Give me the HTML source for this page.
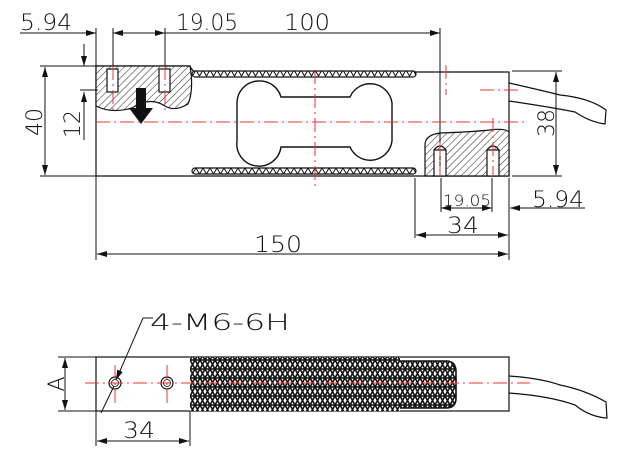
<!DOCTYPE html>
<html><head><meta charset="utf-8"><style>
html,body{margin:0;padding:0;background:#fff;}
svg{display:block;}
text{font-family:"DejaVu Sans","Liberation Sans",sans-serif;fill:#111;font-weight:300;}
</style></head><body>
<svg width="621" height="454" viewBox="0 0 621 454" xmlns="http://www.w3.org/2000/svg">
<defs>
<pattern id="hat" width="5" height="5" patternUnits="userSpaceOnUse" patternTransform="rotate(45)">
<rect width="5" height="5" fill="#fff"/><line x1="0" y1="0" x2="0" y2="5" stroke="#222" stroke-width="1"/></pattern>
<pattern id="kn" width="10" height="9" patternUnits="userSpaceOnUse">
<rect width="10" height="9" fill="#fff"/><path d="M0,0 L5,9 L10,0 M0,9 L5,0 L10,9 M0,0H10M0,9H10" stroke="#111" stroke-width="1.6" fill="none"/></pattern>
<pattern id="zz" width="7" height="7" patternUnits="userSpaceOnUse">
<rect width="7" height="7" fill="#fff"/><path d="M0,0 L3.5,6 L7,0" stroke="#111" stroke-width="1" fill="none"/></pattern>
<marker id="ar" viewBox="0 0 10 6" refX="10" refY="3" markerWidth="10" markerHeight="6" orient="auto-start-reverse" markerUnits="userSpaceOnUse"><path d="M0,0 L10,3 L0,6z" fill="#111"/></marker>
</defs>
<g stroke="#111" stroke-width="1.2" fill="none">
<path d="M96,66 H190 Q192,72 198,72 H509 V176 H96 Z"/>
<rect x="192" y="71" width="224" height="6" rx="3" fill="url(#zz)"/>
<rect x="192" y="168" width="224" height="6" rx="3" fill="url(#zz)"/>
<path d="M258,81 A22,22 0 0 1 281,97 H350 A22,22 0 0 1 392,103 V141 A22,22 0 0 1 350,147 H281 A22,22 0 0 1 237,141 V103 A22,22 0 0 1 258,81 Z" stroke-width="1.4"/>
<path d="M96,66 H190 Q194,90 188,104 Q175,112 165,106 Q150,96 132,108 Q112,114 96,106 Z" fill="url(#hat)"/>
<rect x="107" y="69" width="11" height="23" fill="#fff"/>
<rect x="159" y="69" width="11" height="23" fill="#fff"/>
<path d="M425,176 V145 Q425,135 440,133 Q470,132 490,130 Q505,128 509,132 V176 Z" fill="url(#hat)"/>
<rect x="434" y="150" width="12" height="26" fill="#fff"/>
<rect x="487" y="150" width="12" height="26" fill="#fff"/>
<path d="M434,150 Q440,142 446,150 M487,150 Q493,142 499,150"/>
<path d="M509,83 Q540,90 560,95 Q590,98 606,110 L605,124 Q590,122 575,112 Q550,107 509,101"/>
<line x1="20" y1="33" x2="96" y2="33" marker-end="url(#ar)" stroke-width="1"/>
<line x1="113" y1="33" x2="165" y2="33" stroke-width="1" marker-start="url(#ar)" marker-end="url(#ar)"/>
<line x1="165" y1="33" x2="440" y2="33" stroke-width="1" marker-end="url(#ar)"/>
<line x1="96" y1="28" x2="96" y2="200" stroke-width="1"/>
<line x1="113" y1="28" x2="113" y2="66" stroke-width="1"/>
<line x1="165" y1="28" x2="165" y2="66" stroke-width="1"/>
<line x1="440" y1="28" x2="440" y2="175" stroke-width="1"/>
<line x1="40" y1="66" x2="96" y2="66" stroke-width="1"/>
<line x1="40" y1="176" x2="96" y2="176" stroke-width="1"/>
<line x1="45" y1="67" x2="45" y2="175" stroke-width="1" marker-start="url(#ar)" marker-end="url(#ar)"/>
<line x1="84" y1="44" x2="84" y2="66" stroke-width="1" marker-end="url(#ar)"/>
<line x1="84" y1="112" x2="84" y2="92" stroke-width="1" marker-end="url(#ar)"/>
<line x1="84" y1="92" x2="84" y2="140" stroke-width="1"/>
<line x1="80" y1="90" x2="98" y2="90" stroke-width="1"/>
<line x1="512" y1="71" x2="562" y2="71" stroke-width="1"/>
<line x1="512" y1="176" x2="562" y2="176" stroke-width="1"/>
<line x1="556" y1="72" x2="556" y2="175" stroke-width="1" marker-start="url(#ar)" marker-end="url(#ar)"/>
<line x1="415" y1="178" x2="415" y2="238" stroke-width="1"/>
<line x1="509" y1="178" x2="509" y2="260" stroke-width="1"/>
<line x1="96" y1="176" x2="96" y2="260" stroke-width="1"/>
<line x1="441" y1="178" x2="441" y2="212" stroke-width="1"/>
<line x1="492" y1="178" x2="492" y2="212" stroke-width="1"/>
<line x1="441" y1="208" x2="492" y2="208" stroke-width="1" marker-start="url(#ar)" marker-end="url(#ar)"/>
<line x1="585" y1="208" x2="510" y2="208" stroke-width="1" marker-end="url(#ar)"/>
<line x1="416" y1="235" x2="508" y2="235" stroke-width="1" marker-start="url(#ar)" marker-end="url(#ar)"/>
<line x1="97" y1="254" x2="508" y2="254" stroke-width="1" marker-start="url(#ar)" marker-end="url(#ar)"/>

<rect x="96" y="357" width="413" height="54"/>
<path d="M190,357 H400 V361 H446 Q456,361 456,372 V398 Q456,408 446,408 H400 V411 H190 Z" fill="url(#kn)" stroke="none"/>
<path d="M400,361 H446 Q456,361 456,372 V398 Q456,408 446,408 H400" stroke-width="1.6"/>
<circle cx="115" cy="383" r="6"/><circle cx="115" cy="383" r="3.5" stroke-width="0.8"/>
<circle cx="167" cy="383" r="6"/><circle cx="167" cy="383" r="3.5" stroke-width="0.8"/>
<path d="M509,376 Q540,378 560,385 Q585,390 606,402 L607,418 Q590,417 575,405 Q550,396 509,393"/>
<line x1="58" y1="357" x2="96" y2="357" stroke-width="1"/>
<line x1="58" y1="411" x2="96" y2="411" stroke-width="1"/>
<line x1="65" y1="358" x2="65" y2="410" stroke-width="1" marker-start="url(#ar)" marker-end="url(#ar)"/>
<line x1="143" y1="318" x2="153" y2="318" stroke-width="1"/>
<line x1="143" y1="318" x2="116" y2="380" stroke-width="1" marker-end="url(#ar)"/>
<line x1="114" y1="386" x2="101" y2="413" stroke-width="1"/>
<line x1="96" y1="411" x2="96" y2="446" stroke-width="1"/>
<line x1="190" y1="411" x2="190" y2="446" stroke-width="1"/>
<line x1="97" y1="441" x2="189" y2="441" stroke-width="1" marker-start="url(#ar)" marker-end="url(#ar)"/>
</g>
<path d="M136,88 H146 V108 H153 L141,124 L129,108 H136 Z" fill="#111"/>
<g stroke="#e33" stroke-width="1" fill="none" stroke-dasharray="14,4,2,4">
<line x1="96" y1="122" x2="525" y2="122"/>
<line x1="315" y1="70" x2="315" y2="186"/>
<line x1="113" y1="66" x2="113" y2="110"/>
<line x1="165" y1="66" x2="165" y2="110"/>
<line x1="446" y1="65" x2="446" y2="95"/>
<line x1="480" y1="90" x2="520" y2="90"/>
<line x1="493" y1="118" x2="493" y2="175"/>
<line x1="440" y1="142" x2="440" y2="175"/>
<line x1="85" y1="383" x2="530" y2="383"/>
<line x1="115" y1="365" x2="115" y2="405"/>
<line x1="167" y1="365" x2="167" y2="405"/>
</g>
<g font-size="22">
<text x="20" y="30" textLength="52" lengthAdjust="spacingAndGlyphs">5.94</text>
<text x="176" y="30" textLength="62" lengthAdjust="spacingAndGlyphs">19.05</text>
<text x="284" y="30" textLength="46" lengthAdjust="spacingAndGlyphs">100</text>
<text x="532" y="207" textLength="52" lengthAdjust="spacingAndGlyphs">5.94</text>
<text x="447" y="233" textLength="32" lengthAdjust="spacingAndGlyphs">34</text>
<text x="254" y="252" textLength="48" lengthAdjust="spacingAndGlyphs">150</text>
<text x="150" y="330" textLength="140" lengthAdjust="spacingAndGlyphs">4-M6-6H</text>
<text x="123" y="438" textLength="32" lengthAdjust="spacingAndGlyphs">34</text>
<text transform="translate(42,122) rotate(-90)" text-anchor="middle">40</text>
<text transform="translate(80,124) rotate(-90)" text-anchor="middle">12</text>
<text transform="translate(554,123) rotate(-90)" text-anchor="middle">38</text>
<text transform="translate(64,384) rotate(-90)" text-anchor="middle">A</text>
</g>
<text x="443" y="206" font-size="16" textLength="48" lengthAdjust="spacingAndGlyphs">19.05</text>
</svg>
</body></html>
